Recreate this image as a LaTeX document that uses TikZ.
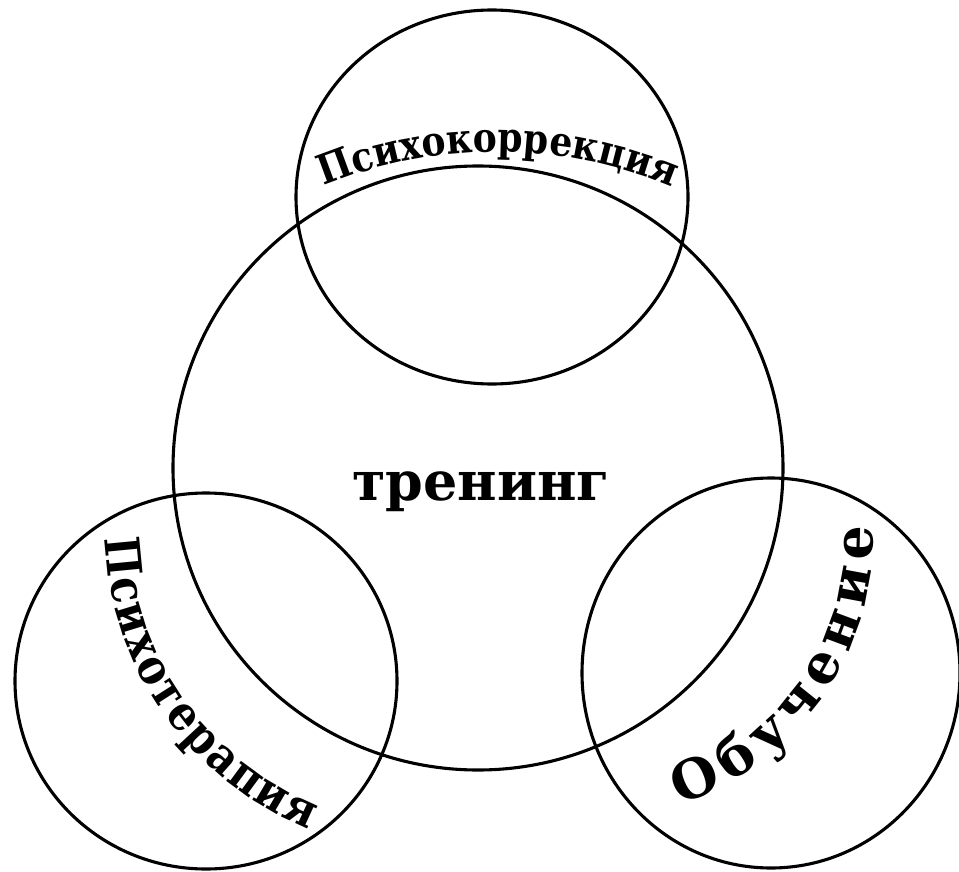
\documentclass[tikz,border=0pt]{standalone}
\usepackage{fontspec}
\setmainfont{DejaVu Serif}
\newfontfamily\labfont{DejaVu Serif}[FakeStretch=0.88]
\usetikzlibrary{decorations.text}
\begin{document}
\begin{tikzpicture}[x=1pt,y=-1pt,
  ring/.style={line width=3.1pt, black},
  curvedlabel/.style={decorate, decoration={text along path, text align=fit to path, text={#1}}}]
\useasboundingbox (0,0) rectangle (959,872);
% circles
\draw[ring] (492,197) ellipse [x radius=196, y radius=187];
\draw[ring] (478,468) ellipse [x radius=305, y radius=302];
\draw[ring] (206,681) ellipse [x radius=191, y radius=188];
\draw[ring] (771,673) ellipse [x radius=189, y radius=195];
% centre label
\node[font=\bfseries\fontsize{54}{54}\selectfont, anchor=base, inner sep=0pt] (tr) at (481,500) {тренинг};
% curved labels
\path[curvedlabel={|\labfont\bfseries\fontsize{41}{41}\selectfont|Психокоррекция}]
  (497,609) ++(-112.3:457) arc[start angle=-112.3, end angle=-67.4, radius=457];
\path[curvedlabel={|\labfont\bfseries\fontsize{48}{48}\selectfont|Психотерапия}]
  (431,527) ++(178:326) arc[start angle=178, end angle=112, radius=326];
\path[curvedlabel={|\bfseries\fontsize{54}{54}\selectfont|Обучение}]
  (590,536) ++(71.5:283) arc[start angle=71.5, end angle=-2, radius=283];
\end{tikzpicture}
\end{document}
